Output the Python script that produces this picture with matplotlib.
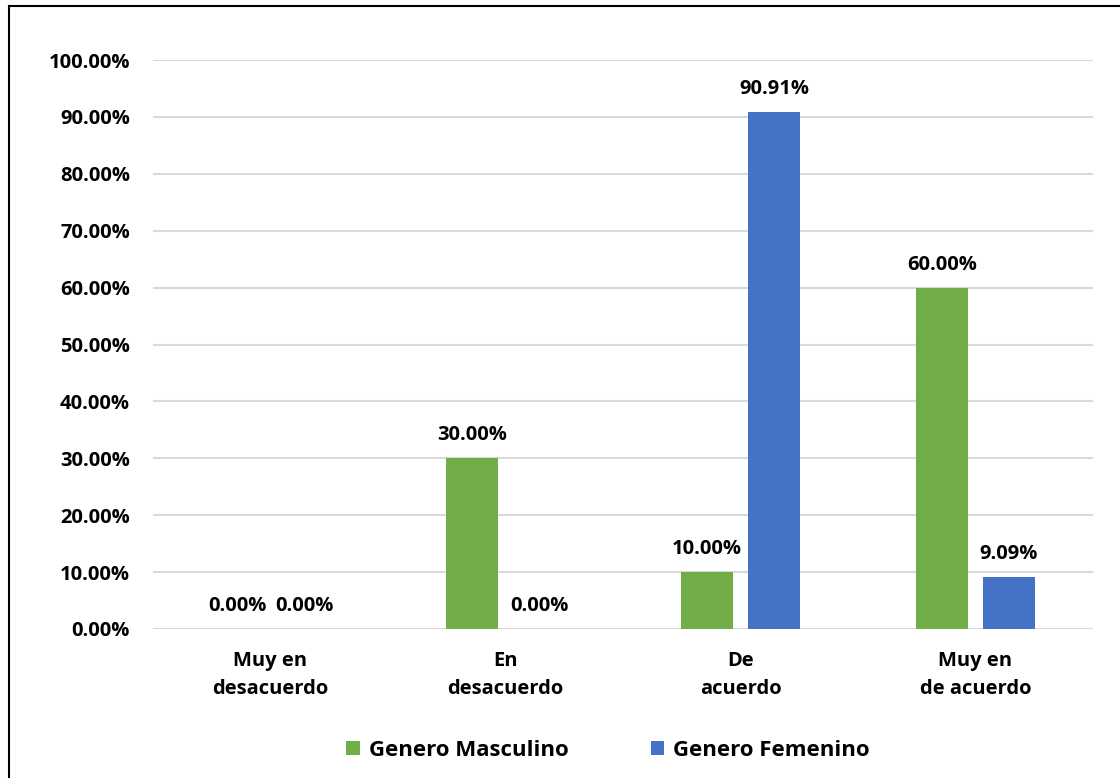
import matplotlib.pyplot as plt
from matplotlib.patches import Rectangle
import numpy as np

categorias = ["Muy en\ndesacuerdo", "En\ndesacuerdo", "De\nacuerdo", "Muy en\nde acuerdo"]
masculino = [0.00, 30.00, 10.00, 60.00]
femenino = [0.00, 0.00, 90.91, 9.09]
series = ["Genero Masculino", "Genero Femenino"]

plt.rcParams['font.family'] = ['Open Sans', 'DejaVu Sans']
plt.rcParams['font.weight'] = 'bold'

fig = plt.figure(figsize=(11.2, 7.78), dpi=100)
ax = fig.add_axes([153/1120, 149/778, 940/1120, 569/778])

x = np.arange(len(categorias))
w = 0.221
off = 0.1426
b1 = ax.bar(x - off, masculino, w, color="#70AD47", label=series[0], zorder=2)
b2 = ax.bar(x + off, femenino, w, color="#4472C4", label=series[1], zorder=2)

for bars in (b1, b2):
    for r in bars:
        h = r.get_height()
        ax.annotate("%.2f%%" % h, (r.get_x() + r.get_width()/2, h),
                    xytext=(0, 16.5), textcoords="offset points",
                    ha="center", va="center", fontsize=14.5, fontweight="bold")

ax.set_xlim(-0.5, 3.5)
ax.set_ylim(0, 100)
ax.set_yticks(np.arange(0, 101, 10))
ax.set_yticklabels(["%.2f%%" % v for v in np.arange(0, 101, 10)], fontsize=14.5, fontweight="bold")
ax.set_xticks(x)
ax.set_xticklabels(categorias, fontsize=14.5, fontweight="bold", linespacing=1.55)
ax.tick_params(length=0, pad=16.5)
ax.tick_params(axis="x", pad=16)
ax.grid(axis="y", color="#D9D9D9", linewidth=1.5, zorder=0)
for s in ax.spines.values():
    s.set_visible(False)

fig.legend(loc="center", bbox_to_anchor=(608/1120, 1 - 750/778), ncol=2, frameon=False,
           handlelength=0.6, handleheight=0.6, handletextpad=0.4, columnspacing=3.7,
           prop={'weight': 'bold', 'size': 16})

fig.patches.append(Rectangle((9/1120, -0.1), 1.2, 1 - 6/778 + 0.1, transform=fig.transFigure,
                             fill=False, edgecolor="black", linewidth=1.5))

fig.savefig("out.png", dpi=100)
